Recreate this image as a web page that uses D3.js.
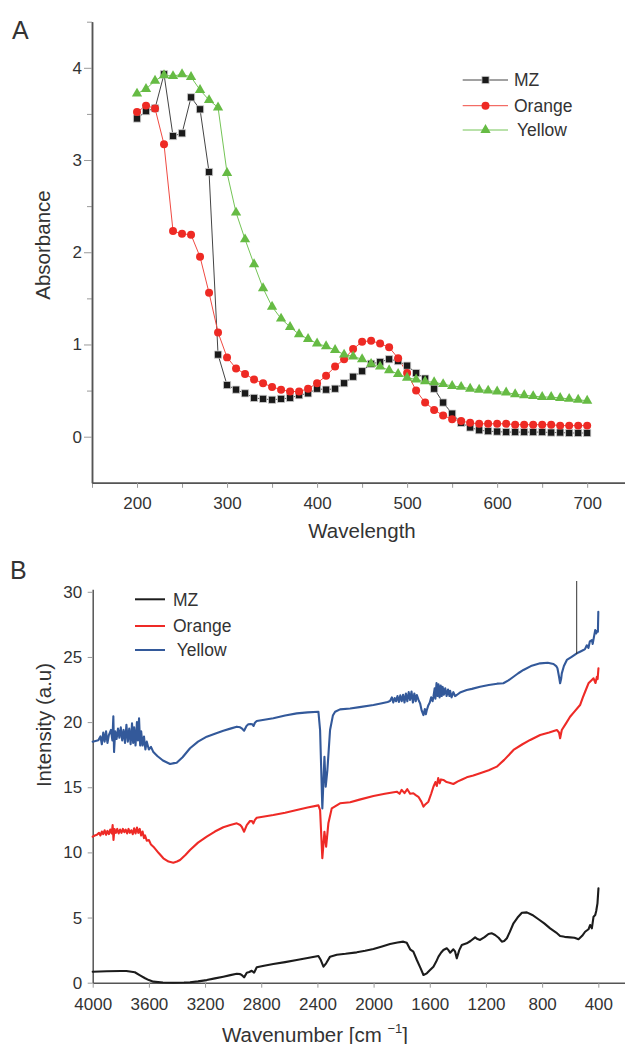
<!DOCTYPE html>
<html>
<head>
<meta charset="utf-8">
<script src="https://cdn.jsdelivr.net/npm/d3@7"></script>
<style>
  html, body { margin: 0; padding: 0; background: #fff; }
  svg { display: block; }
  text { font-family: "Liberation Sans", Arial, sans-serif; fill: #333; }
</style>
</head>
<body>
<script>
// ---------- Panel A: UV-Vis absorbance ----------
const wavelength = [200,210,220,230,240,250,260,270,280,290,300,310,320,330,340,350,360,370,380,390,
  400,410,420,430,440,450,460,470,480,490,500,510,520,530,540,550,560,570,580,590,
  600,610,620,630,640,650,660,670,680,690,700];
const absMZ = [3.45,3.53,3.56,3.93,3.26,3.29,3.68,3.55,2.87,0.89,0.56,0.51,0.47,0.42,0.41,0.40,0.41,0.42,0.45,0.47,
  0.52,0.51,0.52,0.58,0.65,0.71,0.79,0.81,0.84,0.82,0.77,0.69,0.63,0.52,0.37,0.25,0.15,0.10,0.07,0.06,
  0.055,0.05,0.05,0.05,0.05,0.05,0.045,0.045,0.04,0.04,0.04];
const absOrange = [3.52,3.59,3.56,3.17,2.23,2.20,2.19,1.95,1.56,1.13,0.86,0.74,0.68,0.62,0.58,0.54,0.51,0.49,0.49,0.52,
  0.58,0.66,0.76,0.84,0.95,1.03,1.04,1.01,0.97,0.85,0.69,0.50,0.37,0.29,0.23,0.19,0.17,0.15,0.14,0.14,
  0.14,0.14,0.13,0.13,0.13,0.13,0.13,0.12,0.12,0.12,0.12];
const absYellow = [3.72,3.77,3.86,3.92,3.91,3.93,3.90,3.76,3.65,3.57,2.86,2.43,2.14,1.87,1.61,1.41,1.28,1.19,1.11,1.06,
  1.01,0.98,0.94,0.89,0.87,0.84,0.79,0.76,0.72,0.68,0.64,0.62,0.60,0.59,0.57,0.55,0.54,0.52,0.51,0.50,
  0.49,0.48,0.46,0.45,0.44,0.43,0.43,0.42,0.41,0.40,0.39];
const seriesNames = ["MZ", "Orange", "Yellow"];
const xTicksA = [200,300,400,500,600,700];
const xMinorA = [150,250,350,450,550,650];
const yTicksA = [0,1,2,3,4];
const yMinorA = [0.5,1.5,2.5,3.5,4.5];

// ---------- Panel B: FTIR spectra, [wavenumber, intensity] ----------
const ftirMZ = [[4000,0.84],[3900,0.88],[3800,0.90],[3760,0.90],[3700,0.80],[3660,0.55],[3627,0.34],[3600,0.2],
  [3568,0.08],[3500,0.02],[3426,0.0],[3350,0.01],[3307,0.03],[3250,0.1],[3188,0.2],[3130,0.33],[3070,0.46],
  [3020,0.58],[2974,0.69],[2950,0.66],[2939,0.59],[2922,0.41],[2903,0.77],[2885,0.82],[2868,0.92],[2851,0.77],
  [2832,1.18],[2780,1.30],[2714,1.43],[2630,1.58],[2547,1.74],[2470,1.89],[2393,2.05],[2376,1.74],[2357,1.23],
  [2338,1.49],[2310,2.0],[2262,2.15],[2200,2.22],[2120,2.33],[2060,2.45],[2001,2.59],[1940,2.78],[1883,2.97],
  [1830,3.08],[1788,3.15],[1764,3.07],[1740,2.56],[1717,2.38],[1692,1.74],[1665,1.1],[1645,0.59],[1621,0.72],
  [1600,0.95],[1574,1.23],[1555,1.6],[1538,2.0],[1520,2.3],[1503,2.51],[1479,2.64],[1467,2.5],[1455,2.30],
  [1432,2.56],[1420,2.4],[1408,1.87],[1390,2.5],[1372,2.89],[1337,3.02],[1310,3.2],[1277,3.48],[1260,3.35],
  [1242,3.28],[1210,3.5],[1182,3.74],[1160,3.8],[1135,3.66],[1110,3.45],[1087,3.15],[1070,3.2],[1051,3.41],
  [1030,3.9],[1004,4.56],[975,5.0],[944,5.37],[909,5.40],[870,5.2],[826,4.87],[785,4.55],[743,4.17],[700,3.85],
  [672,3.58],[640,3.52],[601,3.48],[570,3.45],[541,3.33],[515,3.6],[494,3.91],[470,4.1],[458,4.43],[446,4.17],
  [434,5.07],[422,5.20],[415,5.5],[410,5.83],[406,6.09],[399,7.24]];

const ftirOrange = [[4000,11.21],[3985,11.3],[3970,11.35],[3955,11.5],[3945,11.3],[3935,11.6],[3925,11.4],
  [3915,11.7],[3905,11.35],[3895,11.65],[3885,11.4],[3875,11.75],[3865,11.45],[3858,12.1],[3852,10.95],
  [3845,11.8],[3835,11.5],[3825,11.8],[3815,11.45],[3805,11.75],[3795,11.5],[3785,11.8],[3775,11.55],
  [3765,11.75],[3755,11.45],[3745,11.8],[3735,11.5],[3725,11.7],[3715,11.4],[3705,11.85],[3695,11.45],
  [3685,11.9],[3675,11.5],[3665,11.8],[3655,11.3],[3645,11.6],[3635,11.1],[3627,11.3],[3615,10.9],
  [3600,10.95],[3585,10.6],[3568,10.44],[3530,9.95],[3497,9.55],[3460,9.3],[3426,9.21],[3400,9.3],
  [3378,9.42],[3340,9.8],[3307,10.18],[3250,10.75],[3188,11.21],[3130,11.6],[3070,11.93],[3020,12.1],
  [2974,12.23],[2950,12.1],[2939,11.97],[2922,11.59],[2903,12.1],[2880,12.41],[2866,12.4],[2856,12.23],
  [2845,12.5],[2832,12.66],[2714,12.87],[2630,13.05],[2547,13.25],[2470,13.45],[2393,13.61],[2381,13.25],
  [2365,9.55],[2350,11.59],[2338,10.44],[2322,12.23],[2298,13.38],[2239,13.77],[2167,13.85],[2100,14.05],
  [2001,14.33],[1920,14.5],[1835,14.66],[1815,14.5],[1800,14.8],[1780,14.55],[1760,14.85],[1740,14.5],
  [1717,14.54],[1700,14.4],[1681,14.27],[1660,13.9],[1645,13.51],[1630,13.7],[1610,13.89],[1590,14.5],
  [1574,15.04],[1560,15.4],[1550,15.1],[1540,15.7],[1530,15.3],[1520,15.6],[1503,15.56],[1480,15.4],
  [1460,15.35],[1432,15.25],[1400,15.45],[1370,15.6],[1337,15.76],[1290,15.9],[1242,16.07],[1180,16.3],
  [1123,16.58],[1070,17.1],[1004,17.86],[940,18.3],[885,18.63],[814,19.01],[750,19.2],[695,19.39],
  [680,19.2],[672,18.76],[660,19.39],[630,19.9],[601,20.41],[570,20.8],[530,21.31],[510,21.9],[494,22.33],
  [470,22.98],[450,23.2],[434,23.36],[420,23.0],[410,23.48],[405,23.3],[399,24.13]];

const ftirYellow = [[4000,18.5],[3980,18.55],[3960,18.6],[3945,18.9],[3935,18.3],[3925,19.2],[3915,18.5],
  [3905,19.3],[3895,18.4],[3885,19.0],[3870,19.4],[3860,18.6],[3853,20.45],[3848,17.7],[3840,19.3],
  [3830,18.7],[3820,19.5],[3810,18.8],[3800,19.6],[3790,18.6],[3780,19.4],[3770,18.4],[3760,19.8],
  [3750,18.5],[3740,19.5],[3730,18.3],[3720,19.9],[3712,18.4],[3705,19.6],[3695,18.2],[3685,20.0],
  [3678,18.6],[3670,20.3],[3662,18.2],[3655,19.3],[3645,18.2],[3635,18.9],[3625,17.9],[3615,18.5],
  [3600,17.9],[3585,18.1],[3568,17.7],[3540,17.4],[3500,17.05],[3449,16.78],[3420,16.85],[3402,16.88],
  [3360,17.3],[3307,17.99],[3250,18.5],[3188,18.88],[3130,19.1],[3070,19.34],[3020,19.5],[2974,19.65],
  [2950,19.6],[2939,19.52],[2922,19.34],[2905,19.7],[2892,19.83],[2875,19.85],[2863,19.83],[2855,19.7],
  [2845,19.95],[2832,20.08],[2714,20.29],[2630,20.5],[2547,20.67],[2470,20.75],[2393,20.80],[2381,19.39],
  [2365,13.38],[2350,17.34],[2341,15.04],[2329,16.32],[2310,19.39],[2290,20.5],[2274,20.80],[2239,20.98],
  [2167,21.05],[2100,21.15],[2001,21.31],[1940,21.45],[1900,21.55],[1883,21.62],[1870,21.9],[1860,21.5],
  [1850,21.85],[1840,21.6],[1830,22.0],[1820,21.55],[1810,22.05],[1800,21.6],[1790,22.1],[1780,21.5],
  [1770,22.2],[1760,21.6],[1750,22.3],[1740,21.7],[1730,22.35],[1720,21.5],[1710,22.2],[1700,21.6],
  [1692,22.08],[1680,21.7],[1669,21.44],[1658,20.9],[1645,20.54],[1635,21.0],[1628,20.6],[1621,20.93],
  [1610,21.3],[1600,21.5],[1590,21.9],[1580,21.6],[1574,21.95],[1565,22.6],[1560,21.8],[1552,23.0],
  [1545,22.0],[1538,22.9],[1530,21.9],[1522,22.8],[1515,22.0],[1508,22.7],[1500,22.1],[1490,22.6],
  [1480,22.0],[1470,22.5],[1460,22.0],[1455,22.4],[1445,21.9],[1432,22.3],[1420,22.0],[1408,22.08],
  [1380,22.3],[1337,22.46],[1300,22.55],[1242,22.72],[1180,22.85],[1120,22.95],[1076,22.98],[1040,23.2],
  [1004,23.48],[970,23.75],[933,24.0],[880,24.3],[814,24.51],[760,24.55],[719,24.46],[700,24.3],
  [691,24.13],[680,23.5],[672,22.98],[665,23.3],[660,23.74],[645,24.3],[624,24.77],[590,25.0],[553,25.28],
  [530,25.4],[506,25.53],[495,25.6],[482,25.9],[470,25.7],[460,26.2],[446,26.3],[440,26.0],[430,26.6],
  [422,27.07],[415,26.8],[408,27.0],[403,26.94],[400,28.47]];
const xTicksB = [4000,3600,3200,2800,2400,2000,1600,1200,800,400];
const yTicksB = [0,5,10,15,20,25,30];

// ---------- drawing ----------
const W = 625, H = 1044;
const svg = d3.select("body").append("svg").attr("width", W).attr("height", H);
svg.append("rect").attr("width", W).attr("height", H).attr("fill", "#fff");

const axisColor = "#555", tickColor = "#9a9a9a";
function styleAxis(g, fontSize) {
  g.select(".domain").attr("stroke", axisColor).attr("stroke-width", 1.5);
  g.selectAll(".tick line").attr("stroke", tickColor).attr("stroke-width", 1);
  g.selectAll(".tick text").attr("fill", "#333").attr("font-size", fontSize)
    .attr("font-family", '"Liberation Sans", Arial, sans-serif');
}

// Panel A scales
const xA = d3.scaleLinear().domain([150, 742]).range([92, 625]);
const yA = d3.scaleLinear().domain([-0.5, 4.5]).range([482.8, 21.7]);

const gA = svg.append("g");
gA.append("g").attr("transform", "translate(0,482.8)")
  .call(d3.axisBottom(xA).tickValues(xMinorA).tickSize(5).tickSizeOuter(0).tickFormat(""))
  .call(g => styleAxis(g, 17));
gA.append("g").attr("transform", "translate(0,482.8)")
  .call(d3.axisBottom(xA).tickValues(xTicksA).tickSize(5).tickPadding(9).tickSizeOuter(0))
  .call(g => styleAxis(g, 17));
gA.append("g").attr("transform", "translate(92,0)")
  .call(d3.axisLeft(yA).tickValues(yMinorA).tickSize(5).tickSizeOuter(0).tickFormat(""))
  .call(g => styleAxis(g, 17));
gA.append("g").attr("transform", "translate(92,0)")
  .call(d3.axisLeft(yA).tickValues(yTicksA).tickSize(8).tickPadding(2).tickSizeOuter(0).tickFormat(d3.format("d")))
  .call(g => styleAxis(g, 17));

const seriesA = [
  { name: seriesNames[0], vals: absMZ, line: "#444", fill: "#1a1a1a", stroke: "#d0d0d0", sym: d3.symbolSquare, size: 52 },
  { name: seriesNames[1], vals: absOrange, line: "#f04a42", fill: "#ee2a24", stroke: "none", sym: d3.symbolCircle, size: 50 },
  { name: seriesNames[2], vals: absYellow, line: "#74c456", fill: "#66bb44", stroke: "none", sym: d3.symbolTriangle, size: 46 }
];
const lineA = d3.line().x(d => xA(d[0])).y(d => yA(d[1]));
seriesA.forEach(s => {
  const pts = wavelength.map((w, i) => [w, s.vals[i]]);
  gA.append("path").datum(pts).attr("d", lineA).attr("fill", "none")
    .attr("stroke", s.line).attr("stroke-width", 1);
});
seriesA.forEach(s => {
  const pts = wavelength.map((w, i) => [w, s.vals[i]]);
  gA.append("g").selectAll("path").data(pts).join("path")
    .attr("transform", d => `translate(${xA(d[0])},${yA(d[1])})`)
    .attr("d", d3.symbol().type(s.sym).size(s.size))
    .attr("fill", s.fill).attr("stroke", s.stroke).attr("stroke-width", 0.8);
});

// Panel A legend
const legA = gA.append("g");
const legAy = [80, 105.7, 130];
seriesA.forEach((s, i) => {
  legA.append("line").attr("x1", 462.7).attr("x2", 508).attr("y1", legAy[i]).attr("y2", legAy[i])
    .attr("stroke", s.line).attr("stroke-width", 1);
  legA.append("path").attr("transform", `translate(485.5,${legAy[i]})`)
    .attr("d", d3.symbol().type(s.sym).size(s.size)).attr("fill", s.fill)
    .attr("stroke", s.stroke).attr("stroke-width", 0.8);
  legA.append("text").attr("x", i === 2 ? 517 : 514).attr("y", legAy[i] + 6.2)
    .attr("font-size", 17.5).text(s.name);
});

// Panel A titles
svg.append("text").attr("x", 12).attr("y", 38.5).attr("font-size", 25).text("A");
svg.append("text").attr("x", 362).attr("y", 538).attr("text-anchor", "middle")
  .attr("font-size", 20.5).text("Wavelength");
svg.append("text").attr("transform", "translate(50,245) rotate(-90)").attr("text-anchor", "middle")
  .attr("font-size", 20.5).text("Absorbance");

// Panel B scales
const xB = d3.scaleLinear().domain([4000, 210]).range([92.7, 625]);
const yB = d3.scaleLinear().domain([0, 30.2]).range([982.7, 589.2]);

const gB = svg.append("g");
gB.append("g").attr("transform", "translate(0,982.7)")
  .call(d3.axisBottom(xB).tickValues(xTicksB).tickSize(5).tickPadding(10).tickSizeOuter(0).tickFormat(d3.format("d")))
  .call(g => styleAxis(g, 17));
gB.append("g").attr("transform", "translate(92.7,0)")
  .call(d3.axisLeft(yB).tickValues(yTicksB).tickSize(5).tickPadding(5.5).tickSizeOuter(0))
  .call(g => styleAxis(g, 17));

const seriesB = [
  { name: seriesNames[0], data: ftirMZ, color: "#1c1c1c" },
  { name: seriesNames[1], data: ftirOrange, color: "#ee2a26" },
  { name: seriesNames[2], data: ftirYellow, color: "#33599a" }
];
const lineB = d3.line().x(d => xB(d[0])).y(d => yB(d[1]));
seriesB.forEach(s => {
  gB.append("path").datum(s.data).attr("d", lineB).attr("fill", "none")
    .attr("stroke", s.color).attr("stroke-width", 2.1)
    .attr("stroke-linejoin", "round").attr("stroke-linecap", "round");
});

// stray marker line near the top right of panel B
gB.append("line").attr("x1", 576.7).attr("x2", 576.7).attr("y1", 581).attr("y2", 654)
  .attr("stroke", "#333").attr("stroke-width", 1);

// Panel B legend
const legBy = [599.3, 626, 650];
seriesB.forEach((s, i) => {
  gB.append("line").attr("x1", 135).attr("x2", 165).attr("y1", legBy[i]).attr("y2", legBy[i])
    .attr("stroke", s.color).attr("stroke-width", 2);
  gB.append("text").attr("x", i === 2 ? 176.7 : 173).attr("y", legBy[i] + 6.2)
    .attr("font-size", 17.5).text(s.name);
});

// Panel B titles
svg.append("text").attr("x", 10).attr("y", 578.5).attr("font-size", 25).text("B");
svg.append("text").attr("transform", "translate(50.5,725) rotate(-90)").attr("text-anchor", "middle")
  .attr("font-size", 20.5).text("Intensity (a.u)");
const xt = svg.append("text").attr("x", 315).attr("y", 1041.5).attr("text-anchor", "middle")
  .attr("font-size", 20.5);
xt.append("tspan").text("Wavenumber [cm ");
xt.append("tspan").attr("font-size", 13).attr("dy", -9).text("\u22121");
xt.append("tspan").attr("dy", 9).text("]");
</script>
</body>
</html>
